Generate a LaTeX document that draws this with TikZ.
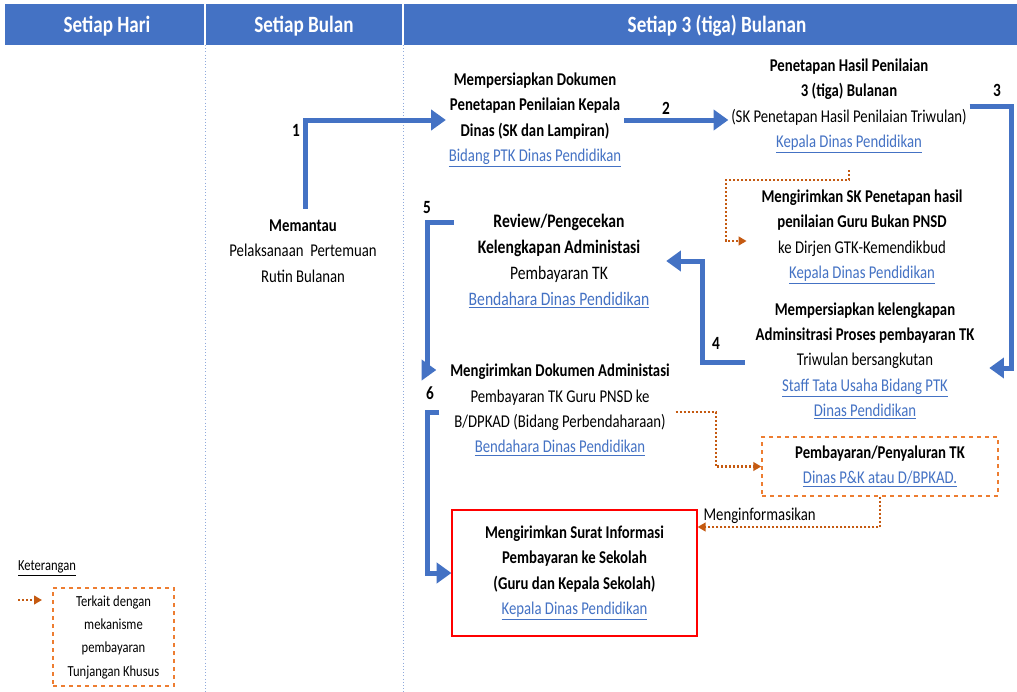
\documentclass[tikz,border=0pt]{standalone}
\usepackage{fontspec}
\setmainfont[FakeStretch=0.82]{Carlito}
\usetikzlibrary{positioning,arrows.meta,calc}
\definecolor{hdrblue}{RGB}{68,114,196}
\definecolor{lnkblue}{RGB}{68,114,196}
\definecolor{payorange}{RGB}{197,90,17}
\definecolor{boxorange}{RGB}{237,125,49}
\definecolor{sepblue}{RGB}{143,170,220}
\newcommand{\lnk}[1]{\textcolor{lnkblue}{\underline{#1}}}

\begin{document}
\begin{tikzpicture}[x=0.75pt,y=-0.75pt,inner sep=2pt]
\tikzstyle{txt}=[align=center, font=\fontsize{13.5}{19}\selectfont]
\tikzstyle{hdr}=[font=\fontsize{17.5}{20}\selectfont\bfseries, text=white]
\tikzstyle{num}=[font=\fontsize{14}{16}\selectfont\bfseries]
\tikzstyle{flow}=[-{Triangle[length=11pt,width=15pt]}, line width=3.75pt, draw=hdrblue]
\tikzstyle{pay}=[-{Triangle[length=6pt,width=6.5pt]}, line width=1.6pt, draw=payorange, dash pattern=on 1.6pt off 1.4pt]
\tikzstyle{dbox}=[draw=boxorange, dashed, line width=1.1pt]
\useasboundingbox (0,0) rectangle (1017,692);
\fill[white] (0,0) rectangle (1017,692);
\fill[hdrblue] (5,4) rectangle (1017,45);
\draw[white, line width=0.8pt] (205,4) -- (205,45) (403,4) -- (403,45);
\draw[sepblue, dotted] (205,45) -- (205,692) (403,45) -- (403,692);
\node[hdr] (hh) at (107,26) {Setiap Hari};
\node[hdr] (hb) at (304,26) {Setiap Bulan};
\node[hdr] (ht) at (717,26) {Setiap 3 (tiga) Bulanan};
\node[txt] (mon) at (303,251) {\textbf{Memantau}\\Pelaksanaan\ \ Pertemuan\\Rutin Bulanan};
\node[txt] (dok) at (535,120) {\textbf{Mempersiapkan Dokumen}\\\textbf{Penetapan Penilaian Kepala}\\\textbf{Dinas (SK dan Lampiran)}\\\lnk{Bidang PTK Dinas Pendidikan}};
\node[txt] (pen) at (849,106) {\textbf{Penetapan Hasil Penilaian}\\\textbf{3 (tiga) Bulanan}\\(SK Penetapan Hasil Penilaian Triwulan)\\\lnk{Kepala Dinas Pendidikan}};
\node[txt] (kir) at (862,237) {\textbf{Mengirimkan SK Penetapan hasil}\\\textbf{penilaian Guru Bukan PNSD}\\ke Dirjen GTK-Kemendikbud\\\lnk{Kepala Dinas Pendidikan}};
\node[txt] (adm) at (865,361) {\textbf{Mempersiapkan kelengkapan}\\\textbf{Adminsitrasi Proses pembayaran TK}\\Triwulan bersangkutan\\\lnk{Staff Tata Usaha Bidang PTK}\\\lnk{Dinas Pendidikan}};
\node[txt, font=\fontsize{14.3}{19.6}\selectfont] (rev) at (559,261) {\textbf{Review/Pengecekan}\\\textbf{Kelengkapan Administasi}\\Pembayaran TK\\\lnk{Bendahara Dinas Pendidikan}};
\node[txt] (dku) at (560,410) {\textbf{Mengirimkan Dokumen Administasi}\\Pembayaran TK Guru PNSD ke\\B/DPKAD (Bidang Perbendaharaan)\\\lnk{Bendahara Dinas Pendidikan}};
\node[txt, dbox, minimum width=177pt, minimum height=44.25pt] (bayar) at (880,466.5) {\textbf{Pembayaran/Penyaluran TK}\\\lnk{Dinas P\&K atau D/BPKAD.}};
\node[txt, draw=red, line width=0.9pt, minimum width=183.75pt, minimum height=94.5pt] (surat) at (574.5,573) {\textbf{Mengirimkan Surat Informasi}\\\textbf{Pembayaran ke Sekolah}\\\textbf{(Guru dan Kepala Sekolah)}\\\lnk{Kepala Dinas Pendidikan}};
\node[num] (n1) at (296,130) {1};
\node[num] (n2) at (666,108) {2};
\node[num] (n3) at (997,90) {3};
\node[num] (n4) at (716,343) {4};
\node[num] (n5) at (427,208) {5};
\node[num] (n6) at (430,393) {6};
\draw[flow] ($(mon.north)+(2,-8)$) |- (dok);
\draw[flow] (dok.east) -- (dok.east -| pen.west);
\draw[flow] (pen.east) -- ++(42,0) |- ($(adm.east)+(12,7)$);
\draw[flow] ($(adm.west)+(-8,1)$) -- ++(-42,0) |- ($(rev.east)+(14,0)$);
\draw[flow] ($(rev.west)+(-12,-39)$) -- ++(-26,0) |- ($(dku.west)+(-11,-40)$);
\draw[flow] ($(dku.west)+(-8,2)$) -- ++(-12,0) |- (surat);
\draw[pay] ($(pen.south)+(0,14)$) |- ++(-123,10) |- ($(kir.west)+(-12,4)$);
\draw[pay] ($(dku.east)+(3,2)$) -- ++(40,0) |- (bayar);
\draw[pay] (bayar.south) |- node[txt, pos=0.83, above] (inf) {Menginformasikan} ($(surat.east)+(0,-46)$);
\node[font=\fontsize{11.5}{14}\selectfont] (ket) at (47,568) {\underline{Keterangan}};
\node[txt, dbox, font=\fontsize{11.5}{17.5}\selectfont, minimum width=90.75pt, minimum height=73.5pt] (leg) at (113.5,637) {Terkait dengan\\mekanisme\\pembayaran\\Tunjangan Khusus};
\coordinate (la) at (18,600);
\draw[pay] (la) -- ++(24,0);
\end{tikzpicture}
\end{document}
